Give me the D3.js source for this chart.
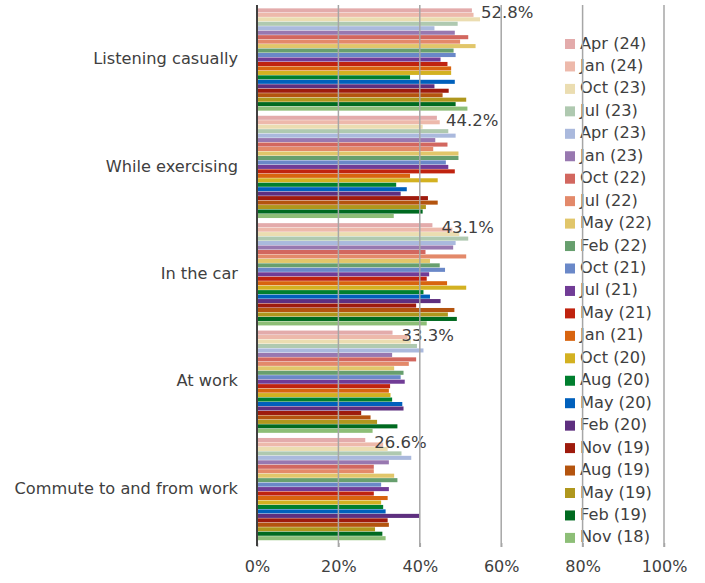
<!DOCTYPE html>
<html>
<head>
<meta charset="utf-8">
<script src="https://cdn.jsdelivr.net/npm/d3@7"></script>
<style>
  html, body { margin: 0; padding: 0; background: #fff; }
  svg { display: block; font-family: "DejaVu Sans", Verdana, sans-serif; }
</style>
</head>
<body>
<svg id="chart" width="705" height="583"></svg>
<script>
// Listening situations (groups, top to bottom)
const categories = ["Listening casually", "While exercising", "In the car", "At work", "Commute to and from work"];

// Survey waves, newest first (top bar in each group)
const waves = ["Apr (24)", "Jan (24)", "Oct (23)", "Jul (23)", "Apr (23)", "Jan (23)", "Oct (22)", "Jul (22)",
  "May (22)", "Feb (22)", "Oct (21)", "Jul (21)", "May (21)", "Jan (21)", "Oct (20)", "Aug (20)",
  "May (20)", "Feb (20)", "Nov (19)", "Aug (19)", "May (19)", "Feb (19)", "Nov (18)"];

const waveColors = ["#e3abab", "#edb9ab", "#ebddb1", "#afc9b0", "#aab9dd", "#9878b0", "#d2675f", "#e3896a",
  "#e1c66a", "#679f6e", "#6a88c8", "#713c96", "#c0230f", "#d8640f", "#d3b121", "#007f2f",
  "#0060bc", "#5e2f7f", "#9e1b0d", "#b4540f", "#af971d", "#006a20", "#8dbe77"];

// Share of respondents (%) per situation, one value per wave in the order above
const listeningCasually = [52.8, 53.2, 54.8, 49.3, 43.6, 48.6, 51.9, 49.9, 53.7, 48.3, 48.8, 45.1, 46.8, 47.7, 47.7, 37.6, 48.6, 43.6, 47.1, 45.6, 51.4, 48.8, 51.7];
const whileExercising   = [44.2, 44.9, 40.7, 47.0, 48.8, 43.8, 46.8, 43.3, 49.5, 49.5, 46.4, 47.0, 48.6, 37.6, 44.4, 34.2, 36.8, 35.3, 42.0, 44.4, 41.5, 40.7, 33.6];
const inTheCar          = [43.1, 48.0, 49.7, 51.9, 48.8, 48.2, 41.4, 51.4, 42.5, 44.9, 46.2, 42.3, 41.7, 46.7, 51.4, 40.9, 42.5, 45.1, 39.1, 48.5, 46.9, 49.1, 41.7];
const atWork            = [33.3, 37.0, 37.8, 39.3, 40.9, 33.2, 39.1, 37.3, 33.7, 36.0, 35.3, 36.3, 32.7, 32.4, 32.8, 33.2, 35.7, 36.0, 25.6, 27.9, 29.5, 34.5, 28.4];
const commute           = [26.6, 31.0, 32.1, 35.5, 37.9, 32.4, 28.7, 28.7, 33.7, 34.5, 30.5, 32.4, 28.7, 32.1, 30.5, 31.0, 31.6, 39.9, 32.1, 32.4, 29.0, 30.8, 31.6];

const seriesByCategory = [listeningCasually, whileExercising, inTheCar, atWork, commute];

// Axis ticks (%)
const xTicks = [0, 20, 40, 60, 80, 100];

const svg = d3.select("#chart");
const textColor = "#404040";

const x = d3.scaleLinear().domain([0, 100]).range([257, 664]);
const y0 = d3.scaleBand().domain(categories).range([6, 543]).paddingInner(0.044).paddingOuter(0.022);
const y1 = d3.scaleBand().domain(waves).range([0, y0.bandwidth()]).padding(0);
const color = d3.scaleOrdinal().domain(waves).range(waveColors);

// Bars
const groups = svg.append("g").selectAll("g")
  .data(categories)
  .join("g")
  .attr("transform", d => `translate(0,${y0(d)})`);

groups.selectAll("rect")
  .data((c, i) => waves.map((w, j) => ({ wave: w, value: seriesByCategory[i][j] })))
  .join("rect")
  .attr("x", x(0))
  .attr("y", d => y1(d.wave))
  .attr("width", d => x(d.value) - x(0))
  .attr("height", y1.bandwidth() - 0.4)
  .attr("fill", d => color(d.wave));

// Value label for the newest wave in each group
groups.append("text")
  .attr("x", (c, i) => x(seriesByCategory[i][0]) + 9)
  .attr("y", y1(waves[0]) + y1.bandwidth() + 1)
  .attr("dominant-baseline", "middle")
  .attr("font-size", 16.5)
  .attr("fill", textColor)
  .text((c, i) => d3.format(".1f")(seriesByCategory[i][0]) + "%");

// Category labels
svg.append("g").selectAll("text")
  .data(categories)
  .join("text")
  .attr("x", 238)
  .attr("y", d => y0(d) + y0.bandwidth() / 2)
  .attr("text-anchor", "end")
  .attr("dominant-baseline", "middle")
  .attr("font-size", 16.2)
  .attr("fill", textColor)
  .text(d => d);

// Legend
const legend = svg.append("g").selectAll("g")
  .data(waves)
  .join("g")
  .attr("transform", (d, i) => `translate(565,${44 + i * 22.45})`);
legend.append("rect")
  .attr("x", 0).attr("y", -5).attr("width", 10).attr("height", 10)
  .attr("fill", d => color(d));
legend.append("text")
  .attr("x", 15).attr("y", 0)
  .attr("dominant-baseline", "middle")
  .attr("font-size", 16.2)
  .attr("fill", textColor)
  .text(d => d);

// Vertical gridlines
svg.append("g").selectAll("line")
  .data(xTicks.filter(t => t > 0))
  .join("line")
  .attr("x1", d => x(d)).attr("x2", d => x(d))
  .attr("y1", 5).attr("y2", 547)
  .attr("stroke", "#a6a6a6")
  .attr("stroke-width", 1.5);

// Bottom axis
const axis = svg.append("g")
  .attr("transform", "translate(0,543)")
  .call(d3.axisBottom(x).tickValues(xTicks).tickSize(4).tickPadding(14).tickFormat(d => d + "%"));
axis.select(".domain").remove();
axis.selectAll(".tick line").attr("stroke", "#a6a6a6").attr("stroke-width", 1.5);
axis.selectAll(".tick text")
  .attr("font-size", 16)
  .attr("font-family", "\"DejaVu Sans\", Verdana, sans-serif")
  .attr("fill", textColor);

// Zero line
svg.append("line")
  .attr("x1", x(0)).attr("x2", x(0))
  .attr("y1", 5).attr("y2", 546)
  .attr("stroke", "#404040")
  .attr("stroke-width", 2);
</script>
</body>
</html>
